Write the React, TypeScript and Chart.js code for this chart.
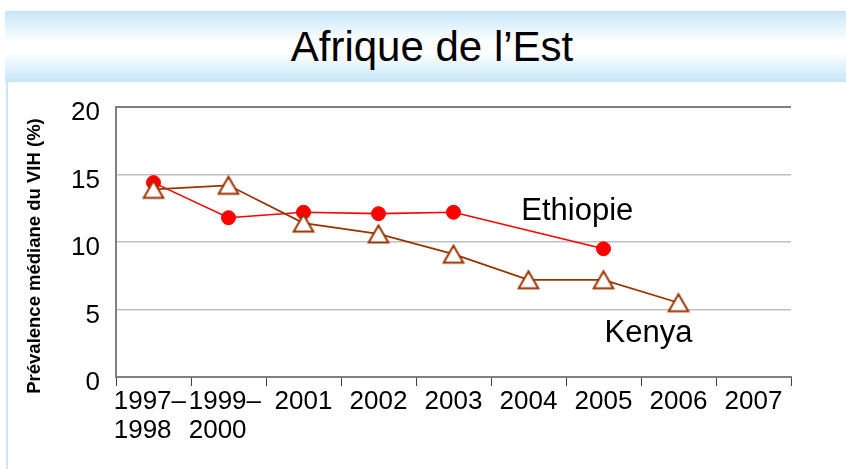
import React, { useEffect, useRef } from "react";
import { Chart, registerables } from "chart.js";

Chart.register(...registerables);

const FONT = '"Liberation Sans", Arial, Helvetica, sans-serif';

const titleText = "Afrique de l’Est";
const yAxisTitle = "Prévalence médiane du VIH (%)";
const categories: (string | string[])[] = [
  ["1997– ", "1998   "],
  ["1999– ", "2000   "],
  "2001",
  "2002",
  "2003",
  "2004",
  "2005",
  "2006",
  "2007",
];
const seriesNames = ["Ethiopie", "Kenya"];
const ethiopieValues = [14.4, 11.8, 12.2, 12.1, 12.2, null, 9.5, null, null];
const kenyaValues = [13.9, 14.2, 11.4, 10.6, 9.1, 7.2, 7.2, 5.5, null];
const yTickValues = [0, 5, 10, 15, 20];

function makeTriangle(): HTMLCanvasElement {
  const c = document.createElement("canvas");
  c.width = 24;
  c.height = 22;
  const g = c.getContext("2d")!;
  g.beginPath();
  g.moveTo(12, 2.5);
  g.lineTo(21.8, 19.5);
  g.lineTo(2.2, 19.5);
  g.closePath();
  g.fillStyle = "#ffffff";
  g.fill();
  g.lineWidth = 2;
  g.lineJoin = "miter";
  g.strokeStyle = "#993300";
  g.stroke();
  return c;
}

const seriesLabelPlugin = {
  id: "seriesLabels",
  afterDatasetsDraw(chart: any) {
    const { ctx, scales } = chart;
    const x = scales.x;
    const y = scales.y;
    ctx.save();
    ctx.fillStyle = "#000";
    ctx.font = `31px ${FONT}`;
    ctx.textAlign = "center";
    ctx.textBaseline = "alphabetic";
    // label anchors (category index, value)
    const anchors = [
      [5.65, 11.6],
      [6.6, 2.6],
    ];
    seriesNames.forEach((name, i) => {
      ctx.fillText(name, x.getPixelForValue(anchors[i][0]), y.getPixelForValue(anchors[i][1]));
    });
    ctx.restore();
  },
  afterDraw(chart: any) {
    const { ctx, scales } = chart;
    const y = scales.y;
    ctx.save();
    ctx.fillStyle = "#000";
    ctx.font = `bold 18.5px ${FONT}`;
    ctx.textAlign = "center";
    ctx.textBaseline = "alphabetic";
    ctx.translate(40, (y.top + y.bottom) / 2 + 14);
    ctx.rotate(-Math.PI / 2);
    ctx.fillText(yAxisTitle, 0, 0);
    ctx.restore();
  },
};

export default function App() {
  const canvasRef = useRef<HTMLCanvasElement | null>(null);

  useEffect(() => {
    if (!canvasRef.current) return;
    const tri = makeTriangle();
    const chart = new Chart(canvasRef.current, {
      type: "line",
      data: {
        labels: categories,
        datasets: [
          {
            label: seriesNames[1],
            data: kenyaValues,
            borderColor: "#993300",
            borderWidth: 1.8,
            pointStyle: tri as any,
            pointRadius: 10,
            tension: 0,
            spanGaps: true,
          },
          {
            label: seriesNames[0],
            data: ethiopieValues,
            borderColor: "#ff0000",
            borderWidth: 1.6,
            pointStyle: "circle",
            pointRadius: 7,
            pointBorderWidth: 1,
            pointBackgroundColor: "#ff0000",
            pointBorderColor: "#ff0000",
            tension: 0,
            spanGaps: true,
          },
        ],
      },
      options: {
        animation: false,
        responsive: false,
        maintainAspectRatio: false,
        layout: { padding: { top: 107, right: 55, left: 0, bottom: 0 } },
        plugins: {
          legend: { display: false },
          tooltip: { enabled: false },
          title: { display: false },
        },
        scales: {
          x: {
            type: "category",
            offset: true,
            grid: {
              offset: true,
              drawOnChartArea: false,
              drawTicks: true,
              tickLength: 9,
              color: "#404040",
              lineWidth: 1,
            },
            border: { color: "#808080", width: 2 },
            ticks: {
              font: { family: FONT, size: 26, lineHeight: 1.12 },
              color: "#000",
              padding: 1,
              maxRotation: 0,
              autoSkip: false,
            },
            afterFit: (s: any) => {
              s.height = 92;
            },
          },
          y: {
            min: 0,
            max: 20,
            afterBuildTicks: (s: any) => {
              s.ticks = yTickValues.map((v) => ({ value: v }));
            },
            ticks: {
              stepSize: 5,
              font: { family: FONT, size: 26 },
              color: "#000",
              padding: 16,
              labelOffset: 6,
            },
            grid: {
              drawTicks: false,
              tickLength: 0,
              color: (c: any) => (c.tick && c.tick.value === 20 ? "#808080" : "#c0c0c0"),
              lineWidth: (c: any) => (c.tick && c.tick.value === 20 ? 2 : 1.5),
            },
            border: { color: "#808080", width: 2 },
            afterFit: (s: any) => {
              s.width = 116;
            },
          },
        },
      },
      plugins: [seriesLabelPlugin],
    });
    return () => chart.destroy();
  }, []);

  return (
    <div style={{ position: "absolute", left: 0, top: 0, width: 846, height: 469, background: "#fff", overflow: "hidden" }}>
      <div
        style={{
          position: "absolute",
          left: 5,
          top: 11,
          width: 841,
          height: 71,
          background: "linear-gradient(to bottom, #c6e6f8 0%, #fdfeff 42%, #fdfeff 60%, #c6e6f8 100%)",
        }}
      />
      <div
        style={{
          position: "absolute",
          left: 432,
          top: 11,
          height: 71,
          lineHeight: "71px",
          transform: "translateX(-50%)",
          fontFamily: FONT,
          fontSize: 42,
          color: "#000",
          whiteSpace: "nowrap",
        }}
      >
        {titleText}
      </div>
      <div style={{ position: "absolute", left: 6, top: 82, width: 2, height: 387, background: "#c8e7f8" }} />
      <canvas ref={canvasRef} width={846} height={469} style={{ position: "absolute", left: 0, top: 0, width: 846, height: 469 }} />
    </div>
  );
}
